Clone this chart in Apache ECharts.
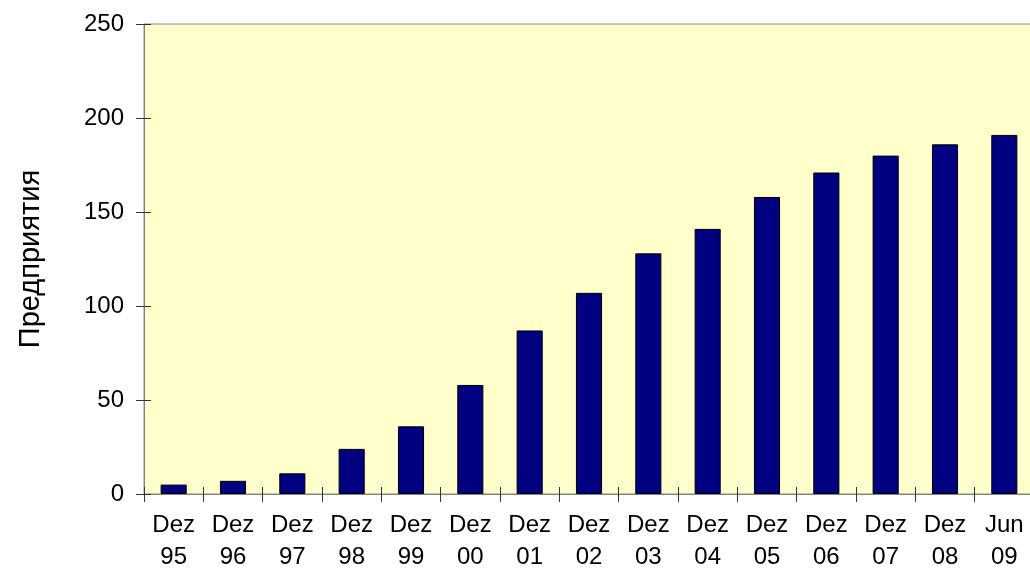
<!DOCTYPE html>
<html>
<head>
<meta charset="utf-8">
<script src="https://cdn.jsdelivr.net/npm/echarts@6/dist/echarts.min.js"></script>
<style>html,body{margin:0;padding:0;background:#fff;}#c{width:1030px;height:577px;}</style>
</head>
<body>
<div id="c"></div>
<script>
const categories = ["Dez\n95","Dez\n96","Dez\n97","Dez\n98","Dez\n99","Dez\n00","Dez\n01","Dez\n02","Dez\n03","Dez\n04","Dez\n05","Dez\n06","Dez\n07","Dez\n08","Jun\n09"];
const values = [5, 7, 11, 24, 36, 58, 87, 107, 128, 141, 158, 171, 180, 186, 191];
const yTicks = { min: 0, max: 250, interval: 50 };
const yTitle = "Предприятия";

const font = "Arial, 'Liberation Sans', sans-serif";
const chart = echarts.init(document.getElementById('c'));
chart.setOption({
  animation: false,
  backgroundColor: '#ffffff',
  grid: { left: 144, right: -4, top: 24, bottom: 83, show: true, backgroundColor: '#FFFFCC', borderColor: '#8c8c8c', borderWidth: 1, outerBoundsMode: 'none', containLabel: false },
  xAxis: [{
    type: 'category', data: categories, position: 'bottom',
    axisLine: { lineStyle: { color: '#808080', width: 1 } },
    axisTick: { show: true, alignWithLabel: false, length: 8, lineStyle: { color: '#333' } },
    axisLabel: { color: '#000', fontSize: 24, fontFamily: font, lineHeight: 32, margin: 15, interval: 0, hideOverlap: false }
  }, {
    type: 'category', data: categories, position: 'bottom',
    axisLine: { show: false },
    axisTick: { show: true, inside: true, length: 7, lineStyle: { color: '#333' } },
    axisLabel: { show: false }
  }],
  yAxis: [{
    type: 'value', min: yTicks.min, max: yTicks.max, interval: yTicks.interval,
    name: yTitle, nameLocation: 'middle', nameGap: 99, nameRotate: 90,
    nameTextStyle: { color: '#000', fontSize: 29, fontFamily: font },
    axisLine: { show: true, lineStyle: { color: '#808080' } },
    axisTick: { show: true, length: 8, lineStyle: { color: '#333' } },
    axisLabel: { color: '#000', fontSize: 24, fontFamily: font, margin: 20 },
    splitLine: { show: false }
  }, {
    type: 'value', min: yTicks.min, max: yTicks.max, interval: yTicks.interval, position: 'left',
    axisLine: { show: false },
    axisTick: { show: true, inside: true, length: 7, lineStyle: { color: '#333' } },
    axisLabel: { show: false },
    splitLine: { show: false }
  }],
  series: [{
    type: 'bar', data: values, barWidth: '44%',
    itemStyle: { color: '#000080', borderColor: '#000', borderWidth: 1 }
  }]
});
</script>
</body>
</html>
